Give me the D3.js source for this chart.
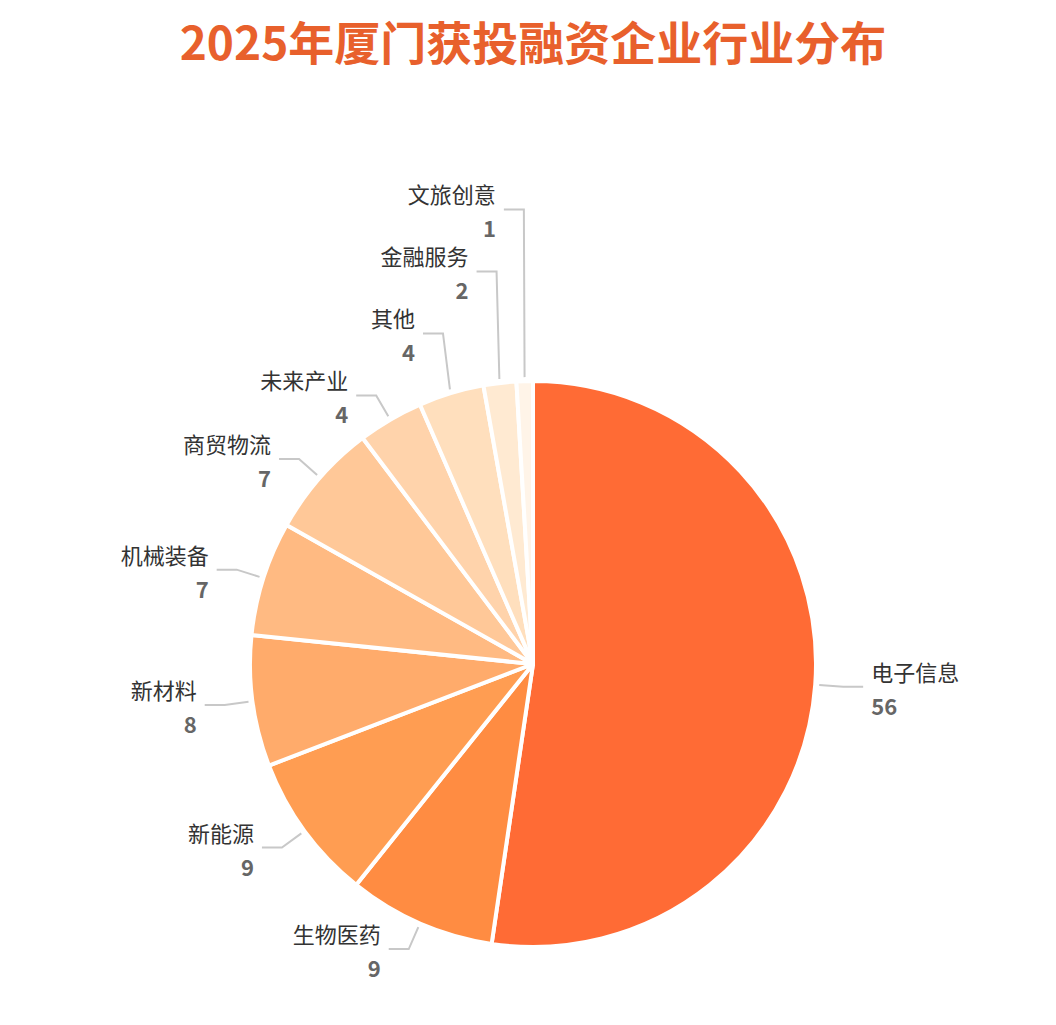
<!DOCTYPE html>
<html><head><meta charset="utf-8">
<script src="https://cdn.jsdelivr.net/npm/d3@7"></script>
<style>body{margin:0;background:#fff}</style>
</head><body>
<svg id="c" width="1056" height="1025"></svg>
<script>
const categories=["电子信息","生物医药","新能源","新材料","机械装备","商贸物流","未来产业","其他","金融服务","文旅创意"];
const values=[56,9,9,8,7,7,4,4,2,1];
const colors=["#FF6B35","#FF8C42","#FF9D52","#FFAB6B","#FFBA82","#FFC898","#FFD3AB","#FFDFBD","#FFEAD2","#FFF4E8"];
const title="2025年厦门获投融资企业行业分布";

const svg=d3.select("#c");
const F="'Noto Sans CJK SC','Noto Sans',sans-serif";
svg.append("text").attr("x",533).attr("y",60).attr("text-anchor","middle")
 .attr("font-family",F).attr("font-weight",700).attr("font-size",46).attr("fill","#E8602C").text(title);
const cx=533,cy=664,r=283;
const g=svg.append("g").attr("transform",`translate(${cx},${cy})`);
const data=categories.map((c,i)=>({name:c,value:values[i],color:colors[i]}));
const arcs=d3.pie().sort(null).value(d=>d.value)(data);
const arc=d3.arc().innerRadius(0).outerRadius(r);
g.selectAll("path").data(arcs).join("path").attr("d",arc).attr("fill",d=>d.data.color)
 .attr("stroke","#fff").attr("stroke-width",4).attr("stroke-linejoin","round");
// labels
const L=arcs.map(d=>{const a=(d.startAngle+d.endAngle)/2;
 const p0=[Math.sin(a)*(r+4),-Math.cos(a)*(r+4)];
 const p1=[Math.sin(a)*(r+28),-Math.cos(a)*(r+28)];
 const right=Math.sin(a)>0;
 return {d,a,p0,p1,right,y:p1[1]};});
// collision on left side: walk from bottom up
const left=L.filter(l=>!l.right).sort((a,b)=>b.y-a.y);
let prev=Infinity;
left.forEach(l=>{l.y=Math.min(l.y,prev-62);prev=l.y;});
L.forEach(l=>{
 const ex=l.p1[0]+(l.right?20:-20), ey=l.y;
 const ptsx=[l.p0,[l.p1[0],l.y===l.p1[1]?l.p1[1]:l.y+ (l.p1[1]-l.y>100?0:0)],[ex,ey]];
 g.append("polyline").attr("points",[l.p0,[l.p1[0],l.y],[ex,ey]].map(p=>p.join(",")).join(" "))
  .attr("fill","none").attr("stroke","#c8c8c8").attr("stroke-width",2);
 const tx=ex+(l.right?8:-8), anchor=l.right?"start":"end";
 g.append("text").attr("x",tx).attr("y",ey-6).attr("text-anchor",anchor).attr("font-family",F)
  .attr("font-size",22).attr("fill","#333").text(l.d.data.name);
 g.append("text").attr("x",tx).attr("y",ey+28).attr("text-anchor",anchor).attr("font-family",F)
  .attr("font-size",22).attr("font-weight",700).attr("fill","#666").text(l.d.data.value);
});
</script>
</body></html>
